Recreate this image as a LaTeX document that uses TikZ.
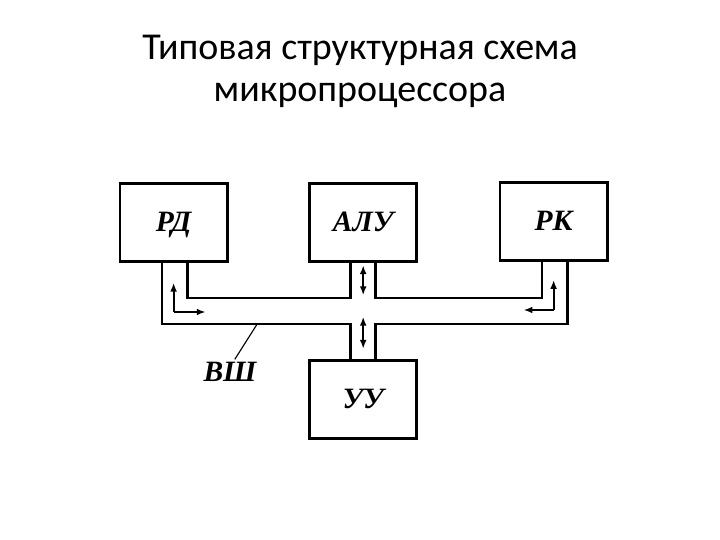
\documentclass[tikz,border=0pt]{standalone}
\usepackage{fontspec}
\usetikzlibrary{arrows.meta, positioning, calc}
\newfontfamily\titlefont{Carlito}
\newfontfamily\labfont{Liberation Serif}

\begin{document}
\begin{tikzpicture}[
  blk/.style={draw, line width=2.1pt, minimum width=2.68cm, minimum height=1.95cm,
              inner sep=0pt, text height=14pt, text depth=1pt,
              font=\labfont\bfseries\itshape\fontsize{21}{23}\selectfont},
  bus/.style={line width=1.9pt, line join=miter},
  arr/.style={-{Latex[length=2.2mm, width=1.7mm]}, line width=1.3pt},
  darr/.style={{Latex[length=2.2mm, width=1.7mm]}-{Latex[length=2.2mm, width=1.7mm]}, line width=1.3pt},
  ttl/.style={anchor=base, font=\titlefont\fontsize{27}{30}\selectfont}
]
\useasboundingbox (0,0) rectangle (18,13.5);

%% Title
\node[ttl] (title1) at (9, 12.0) {Типовая структурная схема};
\node[ttl] (title2) at (9, 10.95) {микропроцессора};

%% Blocks
\node[blk] (rd)  at (4.34, 7.93)  {РД};
\node[blk] (alu) at (9.08, 7.93)  {АЛУ};
\node[blk] (rk)  at (13.84, 7.96) {РК};
\node[blk] (uu)  at (9.08, 3.52)  {УУ};

%% Bus levels and stubs
\coordinate (bi) at (0, 6.05);
\coordinate (bo) at (0, 5.40);
\coordinate (aluL) at ($(alu.south)+(-0.31,0)$);
\coordinate (aluR) at ($(alu.south)+(0.31,0)$);
\coordinate (uuL)  at ($(uu.north)+(-0.31,0)$);
\coordinate (uuR)  at ($(uu.north)+(0.31,0)$);

%% Bus lines
\draw[bus] ($(rd.south)+(0.34,0)$)  |- (bi -| aluL) -- (aluL);
\draw[bus] ($(rk.south)+(-0.29,0)$) |- (bi -| aluR) -- (aluR);
\draw[bus] ($(rd.south)+(-0.29,0)$) |- (bo -| uuL) -- (uuL);
\draw[bus] ($(rk.south)+(0.34,0)$)  |- (bo -| uuR) -- (uuR);

%% Arrows at RD and RK
\coordinate (rdc) at ($(rd.south |- bo)+(0,0.3)$);
\draw[arr] (rdc) -- ++(0,0.73);
\draw[arr] (rdc) -- ++(0.8,0);
\coordinate (rkc) at ($(rk.south |- bo)+(0,0.35)$);
\draw[arr] (rkc) -- ++(0,0.75);
\draw[arr] (rkc) -- ++(-0.75,0);

%% Double arrows at ALU and UU
\draw[darr] ($(alu.south)+(0,-0.05)$) -- ($(alu.south |- bi)+(0,0.07)$);
\draw[darr] ($(uu.north |- bo)+(0,0.18)$) -- ($(uu.north)+(0,0.25)$);

%% Bus label
\node[font=\labfont\bfseries\itshape\fontsize{21}{23}\selectfont] (vsh) at (5.75, 4.2) {ВШ};
\coordinate (vshp) at ($(bo)+(6.43,0)$);
\draw[line width=0.8pt] ($(vsh.north)+(0.12,-0.05)$) -- (vshp);

\end{tikzpicture}
\end{document}
